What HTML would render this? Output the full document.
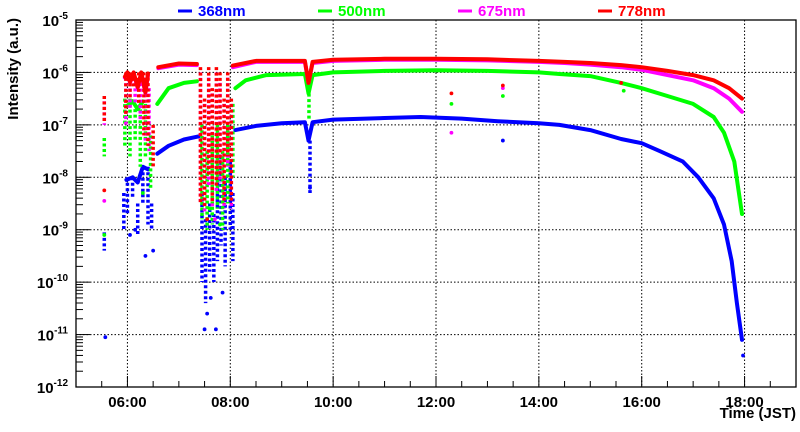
<!DOCTYPE html>
<html><head><meta charset="utf-8"><style>
body{margin:0;background:#fff;font-family:"Liberation Sans",sans-serif}
svg text{font-family:"Liberation Sans",sans-serif;font-weight:bold}
</style></head><body>
<svg id="c" width="800" height="427" xmlns="http://www.w3.org/2000/svg"></svg>
<script>
const xTickLabels=["06:00","08:00","10:00","12:00","14:00","16:00","18:00"];
const xTickHours=[6,8,10,12,14,16,18];
const yTickExps=[-12,-11,-10,-9,-8,-7,-6,-5];
const seriesNames=["368nm","500nm","675nm","778nm"];
const seriesColors=["#0000ff","#00ff00","#ff00ff","#ff0000"];
// main curves: segments of [hour, log10(intensity)]
const blueMain=[[[5.98,-8.05],[6.1,-8.0],[6.2,-8.1],[6.3,-7.8],[6.4,-7.85]],[[6.58,-7.55],[6.8,-7.4],[7.1,-7.28],[7.38,-7.22]],[[8.1,-7.1],[8.5,-7.02],[9.0,-6.97],[9.45,-6.95],[9.52,-7.3],[9.6,-6.95],[10.0,-6.9],[11.0,-6.87],[11.7,-6.85],[12.5,-6.88],[13.2,-6.93],[14.0,-6.97],[14.4,-7.0],[15.0,-7.1],[15.6,-7.27],[16.0,-7.35],[16.35,-7.5],[16.8,-7.7],[17.1,-8.0],[17.4,-8.4],[17.6,-8.9],[17.75,-9.6],[17.85,-10.4],[17.95,-11.1]]];
const greenMain=[[[5.98,-6.65],[6.1,-6.55],[6.2,-6.7],[6.3,-6.55]],[[6.58,-6.6],[6.8,-6.3],[7.1,-6.2],[7.35,-6.17]],[[8.1,-6.3],[8.3,-6.15],[8.7,-6.05],[9.45,-6.03],[9.52,-6.4],[9.6,-6.05],[10.0,-6.0],[11.0,-5.97],[12.0,-5.96],[13.0,-5.97],[14.0,-6.0],[14.4,-6.03],[15.0,-6.07],[15.6,-6.2],[16.0,-6.3],[16.5,-6.45],[17.0,-6.6],[17.4,-6.85],[17.6,-7.15],[17.8,-7.7],[17.95,-8.7]]];
const magentaMain=[[[5.95,-6.1],[6.0,-6.02],[6.05,-6.2],[6.12,-6.02],[6.2,-6.3],[6.27,-6.02],[6.35,-6.4],[6.4,-6.05]],[[6.6,-5.92],[7.0,-5.85],[7.35,-5.86]],[[8.05,-5.9],[8.5,-5.8],[9.45,-5.8],[9.52,-6.2],[9.6,-5.82],[10.0,-5.78],[11.0,-5.76],[12.0,-5.76],[13.0,-5.77],[14.0,-5.8],[14.5,-5.82],[15.0,-5.85],[15.6,-5.9],[16.0,-5.95],[16.5,-6.05],[17.0,-6.15],[17.4,-6.3],[17.7,-6.5],[17.95,-6.75]]];
const redMain=[[[5.95,-6.08],[6.0,-6.0],[6.05,-6.18],[6.12,-6.0],[6.2,-6.28],[6.27,-6.0],[6.35,-6.38],[6.4,-6.02]],[[6.6,-5.9],[7.0,-5.83],[7.35,-5.84]],[[8.05,-5.87],[8.5,-5.78],[9.45,-5.78],[9.52,-6.2],[9.6,-5.8],[10.0,-5.76],[11.0,-5.74],[12.0,-5.74],[13.0,-5.75],[14.0,-5.78],[14.5,-5.8],[15.0,-5.82],[15.6,-5.86],[16.0,-5.9],[16.5,-5.97],[17.0,-6.05],[17.4,-6.15],[17.7,-6.3],[17.95,-6.5]]];
// vertical streaks [hour, logTop, logBottom]
const blueStreaks=[[5.55,-9.05,-9.4],[5.93,-8.3,-9.0],[6.0,-8.0,-8.7],[6.1,-8.0,-8.4],[6.2,-8.5,-9.1],[6.3,-7.8,-8.5],[6.4,-7.8,-8.9],[6.47,-8.5,-9.0],[7.45,-8.3,-10.0],[7.52,-8.8,-10.4],[7.6,-8.5,-9.8],[7.68,-8.7,-10.0],[7.75,-8.0,-9.6],[7.82,-7.6,-9.3],[7.9,-8.0,-9.7],[8.0,-7.7,-9.0],[8.05,-8.3,-9.6],[9.55,-7.3,-8.3]];
const greenStreaks=[[5.55,-7.25,-7.6],[5.95,-6.5,-7.4],[6.05,-6.5,-7.6],[6.15,-6.7,-7.3],[6.25,-6.6,-7.8],[6.35,-6.6,-7.6],[6.45,-7.2,-8.2],[7.45,-7.0,-8.8],[7.55,-7.5,-9.0],[7.65,-7.2,-8.9],[7.75,-7.0,-8.6],[7.85,-7.5,-9.0],[7.95,-7.0,-8.5],[8.05,-6.6,-8.0],[9.53,-6.3,-6.9]];
const magentaStreaks=[[5.55,-6.55,-7.0],[5.97,-6.1,-7.0],[6.05,-6.2,-6.7],[6.15,-6.2,-6.6],[6.25,-6.1,-6.9],[6.35,-6.1,-7.3],[6.42,-6.3,-7.5],[7.42,-6.0,-8.5],[7.5,-6.6,-8.7],[7.58,-6.1,-8.2],[7.65,-6.4,-8.6],[7.73,-6.0,-8.3],[7.8,-6.2,-8.1],[7.88,-6.6,-8.6],[7.95,-6.1,-7.8],[8.02,-6.6,-8.6]];
const redStreaks=[[5.55,-6.45,-6.95],[5.97,-6.0,-6.8],[6.05,-6.0,-6.5],[6.12,-6.0,-6.3],[6.22,-6.0,-6.6],[6.32,-6.0,-7.2],[6.4,-6.1,-7.4],[6.5,-7.0,-7.8],[7.42,-5.9,-8.5],[7.5,-6.5,-8.6],[7.58,-5.9,-8.0],[7.65,-6.3,-8.5],[7.73,-5.9,-8.2],[7.8,-6.0,-8.0],[7.88,-6.5,-8.5],[7.95,-6.0,-7.6],[8.02,-6.5,-8.5]];
// scattered points [hour, log10]
const blueDots=[[5.57,-11.05],[6.05,-9.1],[6.15,-9.0],[6.35,-9.5],[6.5,-9.4],[7.5,-10.9],[7.62,-10.3],[7.72,-10.9],[7.55,-10.6],[7.85,-10.2],[9.55,-8.2],[13.3,-7.3],[17.97,-11.4]];
const greenDots=[[5.55,-9.1],[6.3,-8.3],[7.6,-8.6],[7.8,-8.9],[12.3,-6.6],[13.3,-6.45],[15.65,-6.35]];
const magentaDots=[[5.55,-8.45],[12.3,-7.15],[13.3,-6.3],[7.7,-8.8]];
const redDots=[[5.55,-8.25],[7.55,-8.8],[12.3,-6.4],[13.3,-6.25],[15.6,-6.2]];

const L=76,R=796,T=20,B=387,X0=5,X1=19,Y0=-12,Y1=-5;
const sx=h=>L+(h-X0)/(X1-X0)*(R-L);
const sy=v=>B-(v-Y0)/(Y1-Y0)*(B-T);
const svg=document.getElementById('c');
const NS="http://www.w3.org/2000/svg";
function mk(t,a,p){const e=document.createElementNS(NS,t);for(const k in a)e.setAttribute(k,a[k]);(p||svg).appendChild(e);return e;}
xTickHours.forEach(h=>{const g=mk('line',{x1:sx(h),x2:sx(h),y1:T,y2:B,stroke:'#000','stroke-dasharray':'1.5,2','stroke-width':1});

});
yTickExps.forEach(e=>{if(e===Y0||e===Y1)return;const g=mk('line',{x1:L,x2:R,y1:sy(e),y2:sy(e),stroke:'#000','stroke-dasharray':'1.5,2','stroke-width':1});

});
const mains=[blueMain,greenMain,magentaMain,redMain];
const streaks=[blueStreaks,greenStreaks,magentaStreaks,redStreaks];
const dots=[blueDots,greenDots,magentaDots,redDots];
[0,1,2,3].forEach(i=>{
  const col=seriesColors[i];
  streaks[i].forEach(s=>{
    const l=mk('line',{x1:sx(s[0]),x2:sx(s[0]),y1:sy(s[1]),y2:sy(s[2]),stroke:col,'stroke-width':3.5,'stroke-dasharray':'3,2.5'});
    
    
  });
  mains[i].forEach(seg=>{
    const p=mk('path',{d:seg.map((q,j)=>(j?'L':'M')+sx(q[0]).toFixed(1)+','+sy(q[1]).toFixed(1)).join(''),fill:'none',stroke:col,'stroke-width':4,'stroke-linejoin':'round','stroke-linecap':'round'});
    
    
  });
  dots[i].forEach(q=>{
    const c=mk('circle',{cx:sx(q[0]),cy:sy(q[1]),r:1.9,fill:col});
    
    
  });
});
const fr=mk('rect',{x:L,y:T,width:R-L,height:B-T,fill:'none',stroke:'#000','stroke-width':1.3});


for(let h=X0;h<=X1;h+=0.5){const big=Number.isInteger(h)&&h%2===0;
 const t=mk('line',{x1:sx(h),x2:sx(h),y1:B,y2:B-(big?11:6),stroke:'#000','stroke-width':1});
 
 }
xTickHours.forEach((h,i)=>{const t=mk('text',{x:sx(h),y:B+20,'text-anchor':'middle','font-size':15});t.textContent=xTickLabels[i];
 
 });
yTickExps.forEach(e=>{
 const t=mk('line',{x1:L,x2:L+14,y1:sy(e),y2:sy(e),stroke:'#000','stroke-width':1});
 
 
 if(e<Y1)for(let m=2;m<=9;m++){const v=e+Math.log10(m);const u=mk('line',{x1:L,x2:L+7,y1:sy(v),y2:sy(v),stroke:'#000','stroke-width':1});
 
 }
 const tx=mk('text',{x:L-8,y:sy(e)+6,'text-anchor':'end','font-size':15});
 tx.innerHTML='10<tspan dy="-7" font-size="10">'+e+'</tspan>';
 
 
});
const xt=mk('text',{x:R,y:418,'text-anchor':'end','font-size':15});xt.textContent='Time (JST)';


const yt=mk('text',{x:0,y:0,'text-anchor':'end','font-size':15,transform:'translate(18,18) rotate(-90)'});yt.textContent='Intensity (a.u.)';


const lx=[178,318,458,598];
seriesNames.forEach((n,i)=>{
 const g=mk('g',{});
 
 
 mk('line',{x1:lx[i],x2:lx[i]+14,y1:11,y2:11,stroke:seriesColors[i],'stroke-width':3},g);
 const t=mk('text',{x:lx[i]+20,y:16,'font-size':15,fill:seriesColors[i]},g);t.textContent=n;
});
</script>
</body></html>
